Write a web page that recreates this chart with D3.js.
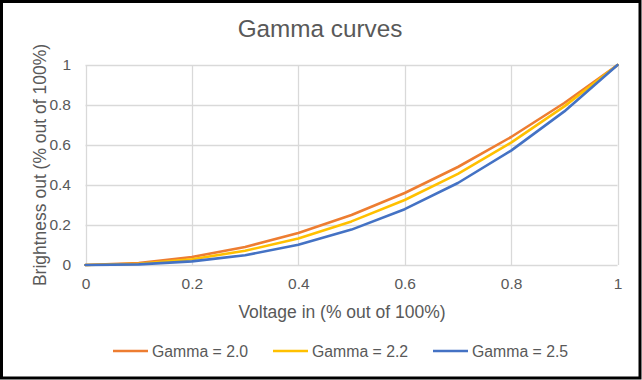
<!DOCTYPE html>
<html>
<head>
<meta charset="utf-8">
<script src="https://cdn.jsdelivr.net/npm/d3@7"></script>
<style>
  html, body { margin: 0; padding: 0; background: #fff; }
  svg { display: block; font-family: "Liberation Sans", Arial, sans-serif; }
</style>
</head>
<body>
<svg id="chart" width="642" height="380"></svg>
<script>
const voltage = [0, 0.1, 0.2, 0.3, 0.4, 0.5, 0.6, 0.7, 0.8, 0.9, 1];
const gamma20 = [0, 0.01, 0.04, 0.09, 0.16, 0.25, 0.36, 0.49, 0.64, 0.81, 1];
const gamma22 = [0, 0.006, 0.029, 0.071, 0.133, 0.218, 0.325, 0.456, 0.612, 0.793, 1];
const gamma25 = [0, 0.003, 0.018, 0.049, 0.101, 0.177, 0.279, 0.410, 0.572, 0.768, 1];
const seriesNames = ["Gamma = 2.0", "Gamma = 2.2", "Gamma = 2.5"];
const seriesColors = ["#ED7D31", "#FFC000", "#4472C4"];
const xTicks = [0, 0.2, 0.4, 0.6, 0.8, 1];
const yTicks = [0, 0.2, 0.4, 0.6, 0.8, 1];
const titleText = "Gamma curves";
const xTitle = "Voltage in (% out of 100%)";
const yTitle = "Brightness out (% out of 100%)";

const series = [gamma20, gamma22, gamma25].map((vals, i) => ({
  name: seriesNames[i], color: seriesColors[i],
  points: voltage.map((v, j) => [v, vals[j]])
}));

const svg = d3.select("#chart");
const W = 642, H = 380;
const textColor = "#595959";
const gridColor = "#d9d9d9";

svg.append("rect").attr("x", 0).attr("y", 0).attr("width", W).attr("height", H).attr("fill", "#fff");

const x = d3.scaleLinear().domain([0, 1]).range([85.5, 617.5]);
const y = d3.scaleLinear().domain([0, 1]).range([265, 65]);

// gridlines
const grid = svg.append("g");
grid.selectAll(".vg").data(xTicks).join("line")
  .attr("x1", d => Math.round(x(d)) + 0.5).attr("x2", d => Math.round(x(d)) + 0.5)
  .attr("y1", y(1)).attr("y2", y(0))
  .attr("stroke", gridColor).attr("stroke-width", 1.3);
grid.selectAll(".hg").data(yTicks).join("line")
  .attr("x1", x(0)).attr("x2", x(1))
  .attr("y1", d => Math.round(y(d)) + 0.5).attr("y2", d => Math.round(y(d)) + 0.5)
  .attr("stroke", gridColor).attr("stroke-width", 1.3);

// axes (labels only)
const xAxis = d3.axisBottom(x).tickValues(xTicks).tickFormat(d3.format("")).tickSize(0).tickPadding(0);
const gx = svg.append("g").attr("transform", `translate(0, 278)`).call(xAxis);
gx.select(".domain").remove();
gx.selectAll("text").attr("fill", textColor).attr("font-size", "15.5px")
  .attr("font-family", "Liberation Sans, Arial, sans-serif");

const yAxis = d3.axisLeft(y).tickValues(yTicks).tickFormat(d3.format("")).tickSize(0).tickPadding(0);
const gy = svg.append("g").attr("transform", `translate(71, 0)`).call(yAxis);
gy.select(".domain").remove();
gy.selectAll("text").attr("fill", textColor).attr("font-size", "15.5px")
  .attr("font-family", "Liberation Sans, Arial, sans-serif");

// lines
const line = d3.line().x(d => x(d[0])).y(d => y(d[1]));
svg.append("g").selectAll("path").data(series).join("path")
  .attr("d", d => line(d.points))
  .attr("fill", "none")
  .attr("stroke", d => d.color)
  .attr("stroke-width", 2.6)
  .attr("stroke-linejoin", "round")
  .attr("stroke-linecap", "round");

// title
svg.append("text").attr("x", 320).attr("y", 37).attr("text-anchor", "middle")
  .attr("fill", textColor).attr("font-size", "24.3px").text(titleText);

// axis titles
svg.append("text").attr("x", 342).attr("y", 318).attr("text-anchor", "middle")
  .attr("fill", textColor).attr("font-size", "17.5px").text(xTitle);
svg.append("text").attr("transform", "translate(46,165) rotate(-90)").attr("text-anchor", "middle")
  .attr("fill", textColor).attr("font-size", "17.5px").text(yTitle);

// legend
const legendX = d3.scalePoint().domain(seriesNames).range([113, 433]);
const lg = svg.append("g").selectAll("g").data(series).join("g")
  .attr("transform", d => `translate(${legendX(d.name)}, 351)`);
lg.append("line").attr("x1", 0).attr("x2", 35).attr("y1", 0).attr("y2", 0)
  .attr("stroke", d => d.color).attr("stroke-width", 2.6);
lg.append("text").attr("x", 39).attr("y", 5.5).attr("fill", textColor)
  .attr("font-size", "15.8px").text(d => d.name);

// outer border
svg.append("rect").attr("x", 1.5).attr("y", 1.5).attr("width", 638.5).attr("height", 376.5)
  .attr("fill", "none").attr("stroke", "#000").attr("stroke-width", 3);
</script>
</body>
</html>
